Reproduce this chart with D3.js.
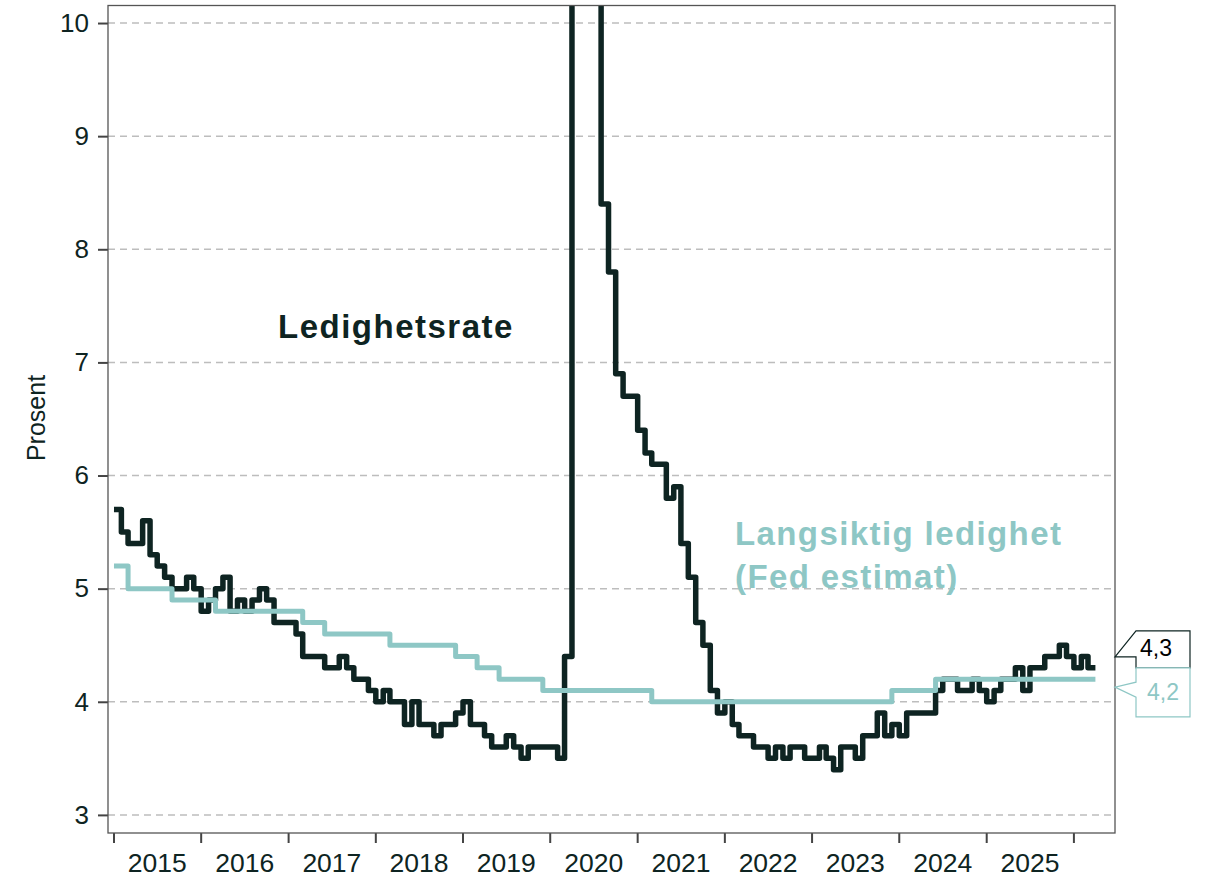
<!DOCTYPE html>
<html>
<head>
<meta charset="utf-8">
<script src="https://cdn.jsdelivr.net/npm/d3@7"></script>
<style>
  body { margin: 0; background: #fff; }
  text { font-family: "Liberation Sans", Arial, sans-serif; }
</style>
</head>
<body>
<script>

// Ledighetsrate USA, månedlig fra januar 2015
const startMaaned = new Date(2015, 0, 1);
const ledighet2015 = [5.7, 5.5, 5.4, 5.4, 5.6, 5.3, 5.2, 5.1, 5.0, 5.0, 5.1, 5.0];
const ledighet2016 = [4.8, 4.9, 5.0, 5.1, 4.8, 4.9, 4.8, 4.9, 5.0, 4.9, 4.7, 4.7];
const ledighet2017 = [4.7, 4.6, 4.4, 4.4, 4.4, 4.3, 4.3, 4.4, 4.3, 4.2, 4.2, 4.1];
const ledighet2018 = [4.0, 4.1, 4.0, 4.0, 3.8, 4.0, 3.8, 3.8, 3.7, 3.8, 3.8, 3.9];
const ledighet2019 = [4.0, 3.8, 3.8, 3.7, 3.6, 3.6, 3.7, 3.6, 3.5, 3.6, 3.6, 3.6];
const ledighet2020 = [3.6, 3.5, 4.4, 14.8, 13.2, 11.0, 10.2, 8.4, 7.8, 6.9, 6.7, 6.7];
const ledighet2021 = [6.4, 6.2, 6.1, 6.1, 5.8, 5.9, 5.4, 5.1, 4.7, 4.5, 4.1, 3.9];
const ledighet2022 = [4.0, 3.8, 3.7, 3.7, 3.6, 3.6, 3.5, 3.6, 3.5, 3.6, 3.6, 3.5];
const ledighet2023 = [3.5, 3.6, 3.5, 3.4, 3.6, 3.6, 3.5, 3.7, 3.7, 3.9, 3.7, 3.8];
const ledighet2024 = [3.7, 3.9, 3.9, 3.9, 3.9, 4.1, 4.2, 4.2, 4.1, 4.1, 4.2, 4.1];
const ledighet2025 = [4.0, 4.1, 4.2, 4.2, 4.3, 4.1, 4.3, 4.3, 4.4, 4.4, 4.5, 4.4];
const ledighet2026 = [4.3, 4.4, 4.3];

// Fed sitt langsiktige estimat (SEP), dato for endring og nivå
const fedDatoer = ['2015-01', '2015-03', '2015-09', '2016-03', '2017-03', '2017-06',
  '2018-03', '2018-12', '2019-03', '2019-06', '2019-12', '2021-03', '2023-12', '2024-06'];
const fedVerdier = [5.2, 5.0, 4.9, 4.8, 4.7, 4.6, 4.5, 4.4, 4.3, 4.2, 4.1, 4.0, 4.1, 4.2];

const yTicks = [3, 4, 5, 6, 7, 8, 9, 10];
const aarstall = [2015, 2016, 2017, 2018, 2019, 2020, 2021, 2022, 2023, 2024, 2025];
const tickAar = [2015, 2016, 2017, 2018, 2019, 2020, 2021, 2022, 2023, 2024, 2025, 2026];

const WIDTH = 1212;
const HEIGHT = 877;

const margin = {
  top: 5.5,
  bottom: 44,
  right: 97,
  left: 108,
};

const MORK = '#0e2422';
const TURKIS = '#8ec7c5';

const svg = d3.select('body')
  .append('svg')
  .attr('width', WIDTH)
  .attr('height', HEIGHT);

const escalaX = d3.scaleTime()
  .domain([new Date(2014, 11, 7), new Date(2026, 5, 22)])
  .range([margin.left, WIDTH - margin.right]);

const escalaY = d3.scaleLinear()
  .domain([2.84, 10.155])
  .range([HEIGHT - margin.bottom, margin.top]);

// data til punkter
const ledighet = [].concat(ledighet2015, ledighet2016, ledighet2017, ledighet2018,
  ledighet2019, ledighet2020, ledighet2021, ledighet2022, ledighet2023,
  ledighet2024, ledighet2025, ledighet2026);
const ledighetData = ledighet.map((v, i) => ({ dato: d3.timeMonth.offset(startMaaned, i), v }));
const sluttDato = d3.timeMonth.offset(startMaaned, ledighet.length);
ledighetData.push({ dato: sluttDato, v: ledighet[ledighet.length - 1] });

const parseMnd = d3.timeParse('%Y-%m');
const fedData = fedDatoer.map((d, i) => ({ dato: parseMnd(d), v: fedVerdier[i] }));
fedData.push({ dato: sluttDato, v: fedVerdier[fedVerdier.length - 1] });

// rutenett
svg.append('g')
  .selectAll('line')
  .data(yTicks)
  .enter()
  .append('line')
  .attr('x1', margin.left)
  .attr('x2', WIDTH - margin.right)
  .attr('y1', d => escalaY(d))
  .attr('y2', d => escalaY(d))
  .attr('stroke', '#bdbdbd')
  .attr('stroke-width', 1.5)
  .attr('stroke-dasharray', '7,5');

// akse Y
const ejeY = d3.axisLeft(escalaY).tickValues(yTicks).tickSize(10).tickPadding(9);
const gY = svg.append('g')
  .attr('transform', `translate(${margin.left}, 0)`)
  .call(ejeY);
gY.select('.domain').remove();
gY.selectAll('line').attr('stroke', '#444').attr('stroke-width', 2);
gY.selectAll('text')
  .attr('font-size', 26)
  .attr('fill', MORK)
  .style('font-family', '"Liberation Sans", Arial, sans-serif');

// akse X: streker ved årsskifte, tekst midt i året
const gX = svg.append('g');
gX.selectAll('line')
  .data(tickAar)
  .enter()
  .append('line')
  .attr('x1', d => escalaX(new Date(d, 0, 1)))
  .attr('x2', d => escalaX(new Date(d, 0, 1)))
  .attr('y1', HEIGHT - margin.bottom)
  .attr('y2', HEIGHT - margin.bottom + 10)
  .attr('stroke', '#444')
  .attr('stroke-width', 2);
gX.selectAll('text')
  .data(aarstall)
  .enter()
  .append('text')
  .attr('x', d => escalaX(new Date(d, 6, 1)))
  .attr('y', 872)
  .attr('text-anchor', 'middle')
  .attr('font-size', 26.5)
  .attr('fill', MORK)
  .text(d => d);

svg.append('text')
  .attr('transform', 'translate(45, 418) rotate(-90)')
  .attr('text-anchor', 'middle')
  .attr('font-size', 25)
  .attr('fill', MORK)
  .text('Prosent');

// linjer
svg.append('clipPath')
  .attr('id', 'plotClip')
  .append('rect')
  .attr('x', margin.left)
  .attr('y', margin.top)
  .attr('width', WIDTH - margin.left - margin.right)
  .attr('height', HEIGHT - margin.top - margin.bottom);

const linje = d3.line()
  .x(d => escalaX(d.dato))
  .y(d => escalaY(d.v))
  .curve(d3.curveStepAfter);

const contenedor = svg.append('g').attr('clip-path', 'url(#plotClip)');

contenedor.append('path')
  .datum(ledighetData)
  .attr('d', linje)
  .attr('fill', 'none')
  .attr('stroke', MORK)
  .attr('stroke-width', 5.5)
  .attr('stroke-linejoin', 'round');

contenedor.append('path')
  .datum(fedData)
  .attr('d', linje)
  .attr('fill', 'none')
  .attr('stroke', TURKIS)
  .attr('stroke-width', 5)
  .attr('stroke-linejoin', 'round');

// ramme
svg.append('rect')
  .attr('x', margin.left)
  .attr('y', margin.top)
  .attr('width', WIDTH - margin.left - margin.right)
  .attr('height', HEIGHT - margin.top - margin.bottom)
  .attr('fill', 'none')
  .attr('stroke', '#555')
  .attr('stroke-width', 1.3);

// tekster i figuren
svg.append('text')
  .attr('x', 278)
  .attr('y', 338)
  .attr('font-size', 33)
  .attr('font-weight', 'bold')
  .attr('letter-spacing', 1.5)
  .attr('fill', MORK)
  .text('Ledighetsrate');

const fedTekst = svg.append('text')
  .attr('font-size', 33)
  .attr('font-weight', 'bold')
  .attr('letter-spacing', 1.4)
  .attr('fill', TURKIS);
fedTekst.append('tspan').attr('x', 735).attr('y', 545).text('Langsiktig ledighet');
fedTekst.append('tspan').attr('x', 735).attr('y', 588).text('(Fed estimat)');

// etiketter for siste verdi
const fmt = v => d3.format('.1f')(v).replace('.', ',');
const kantX = WIDTH - margin.right;
const boksX = kantX + 21;
const boksH = boksX + 54;

const ySisteL = escalaY(ledighet[ledighet.length - 1]) - 11;
const yToppL = ySisteL - 26;
const yBunnL = ySisteL + 11;
svg.append('path')
  .attr('d', `M${boksX},${yToppL} L${boksH},${yToppL} L${boksH},${yBunnL} L${boksX},${yBunnL} L${boksX},${ySisteL} L${kantX},${ySisteL} Z`)
  .attr('fill', '#fff')
  .attr('stroke', MORK)
  .attr('stroke-width', 1.2);
svg.append('text')
  .attr('x', boksX + 4)
  .attr('y', ySisteL - 1)
  .attr('font-size', 23)
  .attr('fill', '#000')
  .text(fmt(ledighet[ledighet.length - 1]));

const ySisteF = escalaY(fedVerdier[fedVerdier.length - 1]) + 8;
const yBunnF = yBunnL + 49;
svg.append('path')
  .attr('d', `M${boksX},${yBunnL} L${boksH},${yBunnL} L${boksH},${yBunnF} L${boksX},${yBunnF} L${boksX},${ySisteF + 10} L${kantX},${ySisteF} L${boksX},${ySisteF - 5} Z`)
  .attr('fill', '#fff')
  .attr('stroke', TURKIS)
  .attr('stroke-width', 1.2);
svg.append('text')
  .attr('x', boksX + 11)
  .attr('y', ySisteF + 13)
  .attr('font-size', 23)
  .attr('fill', TURKIS)
  .text(fmt(fedVerdier[fedVerdier.length - 1]));

</script>
</body>
</html>
